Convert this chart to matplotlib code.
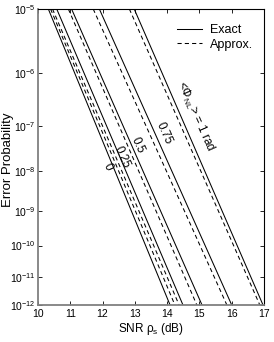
import math
import numpy as np
import matplotlib
matplotlib.use("Agg")
import matplotlib.pyplot as plt

plt.rcParams['font.family'] = ['Liberation Sans', 'DejaVu Sans']
plt.rcParams['mathtext.fontset'] = 'custom'
plt.rcParams['mathtext.rm'] = 'Liberation Sans'
plt.rcParams['mathtext.it'] = 'Liberation Sans'
plt.rcParams['mathtext.bf'] = 'Liberation Sans'

# error probability at the two ends of each line
p_ends = [1e-5, 1e-12]
phase_labels = ['0', '0.25', '0.5', '0.75', '1']
# SNR (dB) where each curve meets P = 1e-5 and P = 1e-12
snr_exact = [[10.32, 14.09], [10.58, 14.49], [11.04, 15.08], [11.90, 16.00], [12.98, 16.97]]
snr_approx = [[10.39, 14.24], [10.45, 14.37], [10.94, 14.92], [11.71, 15.85], [12.83, 16.87]]

yticks = [1e-5, 1e-6, 1e-7, 1e-8, 1e-9, 1e-10, 1e-11, 1e-12]
xticks = [10, 11, 12, 13, 14, 15, 16, 17]

erfc = np.vectorize(math.erfc, otypes=[float])


def qfunc(x):
    return 0.5 * erfc(np.asarray(x, float) / math.sqrt(2))


def qinv(p):
    p = np.clip(np.asarray(p, float), 1e-300, 0.4999)
    lo = np.zeros_like(p)
    hi = np.full_like(p, 40.0)
    for _ in range(70):
        mid = 0.5 * (lo + hi)
        big = qfunc(mid) > p
        lo = np.where(big, mid, lo)
        hi = np.where(big, hi, mid)
    return 0.5 * (lo + hi)


# Q-function probability scale (straight lines vs SNR in dB)
def forward(p):
    return -20 * np.log10(qinv(p))


def inverse(t):
    return qfunc(10 ** (-np.asarray(t, float) / 20))


fig = plt.figure(figsize=(2.74, 3.42), dpi=100)
ax = fig.add_axes([38/274, 1-305/342, 226/274, 296/342])
ax.set_yscale('function', functions=(forward, inverse))

for i in range(len(phase_labels)):
    ax.plot(snr_exact[i], p_ends, color='black', lw=0.75,
            label='Exact' if i == 0 else None)
    ax.plot(snr_approx[i], p_ends, color='black', lw=0.75, ls=(0, (4, 3)),
            label='Approx.' if i == 0 else None)

ax.set_xlim(10, 17)
ax.set_ylim(1e-12, 1e-5)
ax.set_xticks(xticks)
ax.set_xticklabels([str(v) for v in xticks])
ax.set_yticks(yticks)
ax.set_yticklabels(['$10^{%d}$' % round(math.log10(v)) for v in yticks])
ax.minorticks_off()
ax.tick_params(direction='in', length=3, width=0.6, labelsize=7.5, top=True, right=True, pad=2)
ax.tick_params(axis='x', pad=3)

for s in ['left', 'bottom']:
    ax.spines[s].set_color('#808080')
    ax.spines[s].set_linewidth(1.3)
for s in ['top', 'right']:
    ax.spines[s].set_linewidth(0.8)

ax.set_xlabel('SNR $\\rho_s$ (dB)', fontsize=8.5, labelpad=1)
ax.set_ylabel('Error Probability', fontsize=9.5)
ax.yaxis.set_label_coords((14-38)/226, 0.49)

rot = -66
lab = dict(transform=ax.transAxes, rotation=rot, fontsize=8.5, ha='center', va='center',
           rotation_mode='anchor')
ax.text((108-38)/226, (305-167)/296, '0', **lab)
ax.text((122-38)/226, (305-157)/296, '0.25', **lab)
ax.text((138-38)/226, (305-145)/296, '0.5', **lab)
ax.text((164-38)/226, (305-133)/296, '0.75', **lab)
ax.text((195-38)/226, (305-116)/296, '<$\\Phi_{NL}$> = 1 rad', **lab)

ax.legend(loc='upper right', bbox_to_anchor=(0.973, 0.965), frameon=False, fontsize=9,
          handlelength=2.0, handletextpad=0.64, labelspacing=0.2, borderaxespad=0)

fig.savefig('out.png', dpi=100)
